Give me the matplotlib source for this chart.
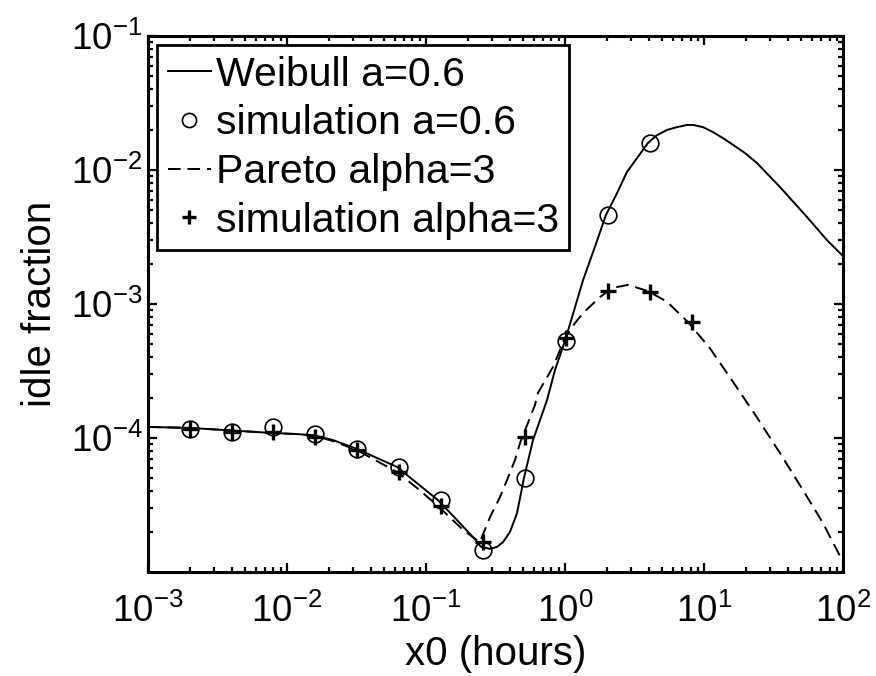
import matplotlib
matplotlib.use("Agg")
import matplotlib.pyplot as plt
from matplotlib.ticker import LogLocator, NullFormatter

plt.rcParams['font.family'] = ['Liberation Sans', 'DejaVu Sans']
plt.rcParams['mathtext.fontset'] = 'custom'
plt.rcParams['mathtext.rm'] = 'Liberation Sans'
plt.rcParams['mathtext.it'] = 'Liberation Sans:italic'
plt.rcParams['mathtext.bf'] = 'Liberation Sans:bold'

# curves (x0 in hours, idle fraction)
weibull_x = [0.001, 0.002, 0.00793, 0.0118, 0.0156, 0.0214, 0.032, 0.0444, 0.062, 0.0861,
             0.122, 0.162, 0.218, 0.249, 0.289, 0.324, 0.358, 0.402, 0.452, 0.507,
             0.589, 0.743, 0.847, 1.0, 1.35, 1.64, 1.97, 2.37, 2.79, 3.95,
             4.59, 5.42, 6.39, 7.55, 8.34, 9.84, 11.6, 13.7, 16.2, 19.7,
             24.0, 35.2, 55.1, 76.7, 100.0]
weibull_y = [1.21e-4, 1.19e-4, 1.09e-4, 1.07e-4, 1.05e-4, 9.66e-5, 8.28e-5, 7.1e-5, 6.08e-5, 4.61e-5,
             3.44e-5, 2.53e-5, 1.82e-5, 1.54e-5, 1.49e-5, 1.54e-5, 1.67e-5, 1.99e-5, 2.75e-5, 5.03e-5,
             9.66e-5, 1.92e-4, 3.21e-4, 5.30e-4, 1.51e-3, 2.66e-3, 4.61e-3, 6.73e-3, 9.66e-3, 1.59e-2,
             1.82e-2, 1.99e-2, 2.09e-2, 2.17e-2, 2.17e-2, 2.09e-2, 1.92e-2, 1.73e-2, 1.54e-2, 1.34e-2,
             1.13e-2, 7.47e-3, 4.46e-3, 3.0e-3, 2.28e-3]

pareto_x = [0.001, 0.002, 0.00793, 0.0118, 0.0156, 0.0214, 0.032, 0.062, 0.0861, 0.122,
            0.185, 0.244, 0.289, 0.341, 0.383, 0.437, 0.475, 0.608, 0.639, 0.820,
            1.0, 1.18, 1.35, 1.79, 2.21, 2.84, 3.95, 5.42, 7.67, 11.0,
            16.2, 24.0, 35.2, 51.5, 71.8, 100.0]
pareto_y = [1.21e-4, 1.19e-4, 1.09e-4, 1.07e-4, 1.04e-4, 9.5e-5, 8.1e-5, 5.57e-5, 4.24e-5, 3.11e-5,
            2.06e-5, 1.67e-5, 2.57e-5, 3.63e-5, 4.86e-5, 6.85e-5, 9.18e-5, 1.76e-4, 2.17e-4, 3.39e-4,
            5.57e-4, 7.21e-4, 8.57e-4, 1.13e-3, 1.32e-3, 1.39e-3, 1.25e-3, 1.04e-3, 7.34e-4, 4.70e-4,
            2.62e-4, 1.43e-4, 7.73e-5, 4.09e-5, 2.32e-5, 1.19e-5]

sim_weibull_x = [0.002, 0.004, 0.008, 0.016, 0.032, 0.064, 0.128, 0.256, 0.512, 1.024, 2.048, 4.096]
sim_weibull_y = [1.17e-4, 1.11e-4, 1.21e-4, 1.07e-4, 8.28e-5, 6.08e-5, 3.44e-5, 1.46e-5, 5.03e-5, 5.3e-4, 4.61e-3, 1.59e-2]

sim_pareto_x = [0.002, 0.004, 0.008, 0.016, 0.032, 0.064, 0.128, 0.256, 0.512, 1.024, 2.048, 4.096, 8.192]
sim_pareto_y = [1.17e-4, 1.10e-4, 1.11e-4, 1.02e-4, 8.2e-5, 5.57e-5, 3.11e-5, 1.67e-5, 1.02e-4, 5.6e-4, 1.25e-3, 1.23e-3, 7.34e-4]

fig = plt.figure(figsize=(8.76, 6.76), dpi=100)
ax = fig.add_axes([0.1689, 0.1538, 0.7934, 0.7929])

ax.plot(weibull_x, weibull_y, '-', color='black', lw=1.4, label='Weibull a=0.6')
ax.plot(sim_weibull_x, sim_weibull_y, 'o', ms=12, mfc='none', mec='black', mew=1.2,
        label='simulation a=0.6')
ax.plot(pareto_x, pareto_y, '--', color='black', lw=1.4, dashes=(6.5, 3.5),
        label='Pareto alpha=3')
ax.plot(sim_pareto_x, sim_pareto_y, '+', ms=12, mec='black', mew=2.4,
        label='simulation alpha=3')

ax.set_xscale('log')
ax.set_yscale('log')
ax.set_xlim(1e-3, 1e2)
ax.set_ylim(1e-5, 1e-1)
ax.set_yticks([1e-4, 1e-3, 1e-2, 1e-1])
ax.yaxis.set_minor_locator(LogLocator(base=10, subs=range(2, 10)))
ax.yaxis.set_minor_formatter(NullFormatter())
ax.xaxis.set_minor_locator(LogLocator(base=10, subs=range(2, 10)))
ax.xaxis.set_minor_formatter(NullFormatter())

for s in ax.spines.values():
    s.set_linewidth(2.2)
ax.tick_params(which='both', direction='in', top=True, right=True, width=1.6)
ax.tick_params(which='major', length=6.5, labelsize=26.5)
ax.tick_params(which='minor', length=3.5)
ax.tick_params(axis='x', which='major', pad=16)
ax.tick_params(axis='y', which='major', pad=4)

ax.set_xlabel('x0 (hours)', fontsize=29, labelpad=3)
ax.set_ylabel('idle fraction', fontsize=29, labelpad=8)

leg = ax.legend(loc='upper left', bbox_to_anchor=(0, 1), fontsize=29.5,
                frameon=True, fancybox=False, framealpha=1, edgecolor='black',
                borderaxespad=0.22, borderpad=0.26, labelspacing=0.26,
                handlelength=1.05, handletextpad=0.12, markerscale=0.85)
leg.get_frame().set_linewidth(2.0)

fig.savefig('out.png', dpi=100)
